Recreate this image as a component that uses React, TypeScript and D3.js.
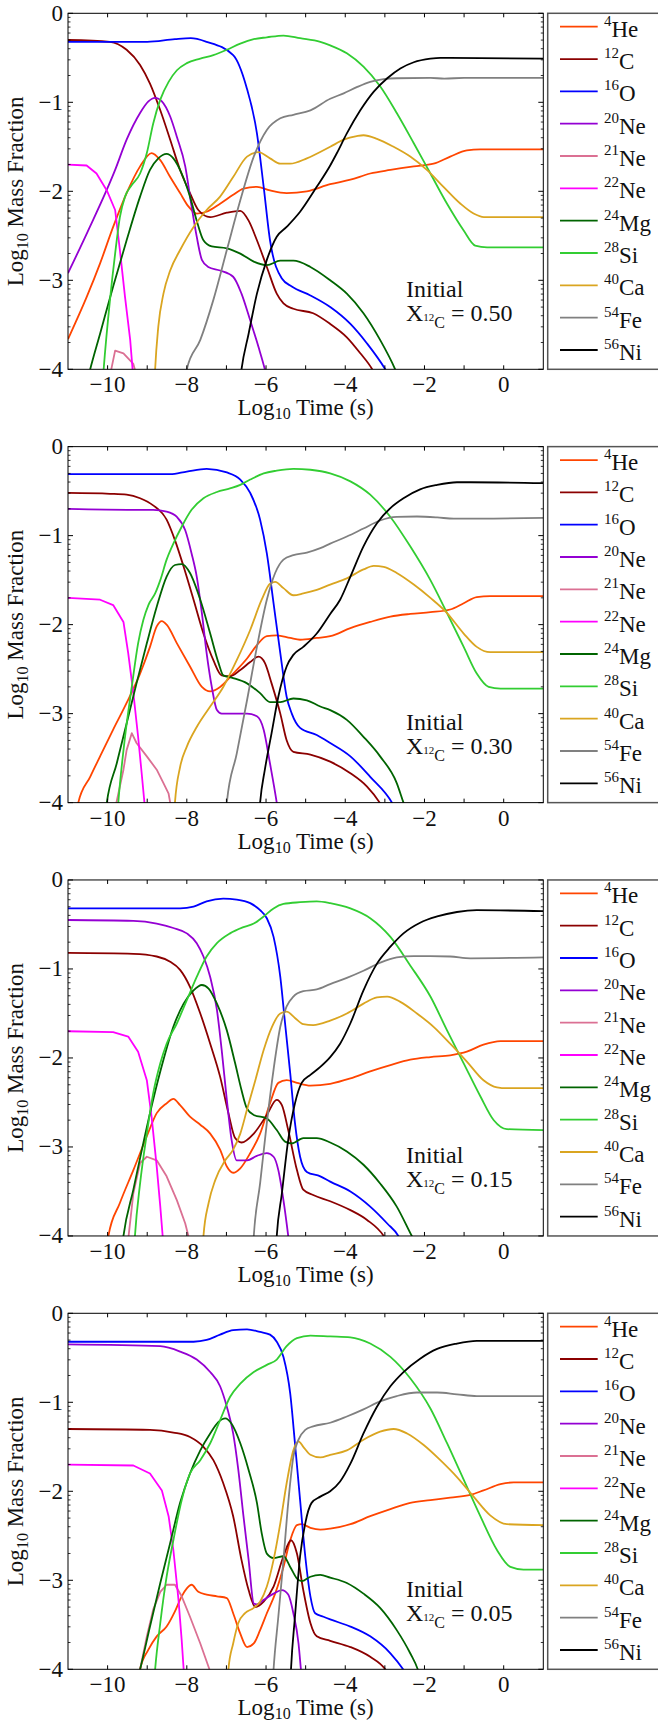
import React from 'react';
import * as d3 from 'd3';

type P = [number, number];

// ---------- species ----------
const MASSES = ['4', '12', '16', '20', '21', '22', '24', '28', '40', '54', '56'];
const SYMBOLS = ['He', 'C', 'O', 'Ne', 'Ne', 'Ne', 'Mg', 'Si', 'Ca', 'Fe', 'Ni'];
const COLORS = ['#FF4500', '#8B0000', '#0000FF', '#9400D3', '#DB7093', '#FF00FF', '#006400', '#32CD32', '#DAA520', '#808080', '#000000'];
const LINEAR_SPECIES = [4, 5];

const X_TICKS = [-10, -8, -6, -4, -2, 0];
const Y_TICKS = [0, -1, -2, -3, -4];
const INITIAL_X12C = ['0.50', '0.30', '0.15', '0.05'];

// ---------- panel 1 : X12C = 0.50 ----------
const he4_50: P[] = [[-11,-3.66],[-10.53,-3.19],[-10.19,-2.81],[-9.86,-2.40],[-9.52,-2.02],[-9.18,-1.72],[-8.89,-1.57],[-8.67,-1.65],[-8.42,-1.84],[-8.17,-2.02],[-7.96,-2.17],[-7.75,-2.25],[-7.5,-2.23],[-7.16,-2.14],[-6.83,-2.04],[-6.57,-1.97],[-6.23,-1.95],[-5.9,-1.99],[-5.48,-2.02],[-4.97,-2.0],[-4.38,-1.92],[-3.87,-1.87],[-3.37,-1.80],[-2.86,-1.76],[-2.27,-1.72],[-1.77,-1.69],[-1.35,-1.61],[-0.93,-1.54],[-0.59,-1.53],[1,-1.53]];
const c12_50: P[] = [[-11,-0.30],[-9.94,-0.32],[-9.52,-0.41],[-9.18,-0.58],[-8.93,-0.79],[-8.67,-1.09],[-8.42,-1.42],[-8.17,-1.76],[-7.92,-2.02],[-7.71,-2.21],[-7.41,-2.29],[-6.99,-2.24],[-6.65,-2.22],[-6.44,-2.33],[-6.23,-2.55],[-5.98,-2.85],[-5.73,-3.15],[-5.56,-3.26],[-5.31,-3.32],[-4.81,-3.37],[-4.38,-3.49],[-3.96,-3.64],[-3.62,-3.82],[-3.32,-4.0],[-3.1,-4.2]];
const o16_50: P[] = [[-11,-0.32],[-9,-0.32],[-8.3,-0.29],[-7.9,-0.28],[-7.5,-0.32],[-6.83,-0.47],[-6.5,-0.82],[-6.23,-1.35],[-6.06,-1.95],[-5.9,-2.55],[-5.6,-2.98],[-5.35,-3.07],[-4.88,-3.17],[-4.38,-3.30],[-3.87,-3.49],[-3.45,-3.71],[-2.99,-4.0],[-2.8,-4.15]];
const ne20_50: P[] = [[-11,-2.92],[-10.5,-2.45],[-9.81,-1.76],[-9.52,-1.42],[-9.18,-1.12],[-8.97,-0.99],[-8.8,-0.95],[-8.63,-0.99],[-8.42,-1.16],[-8.25,-1.39],[-8.04,-1.72],[-7.88,-2.17],[-7.75,-2.51],[-7.62,-2.77],[-7.46,-2.85],[-7.16,-2.89],[-6.83,-2.96],[-6.62,-3.15],[-6.4,-3.45],[-6.19,-3.75],[-6.03,-4.0],[-5.95,-4.15]];
const ne21_50: P[] = [[-10.0,-4.2],[-9.81,-3.79],[-9.6,-3.82],[-9.35,-3.94],[-9.22,-4.15]];
const ne22_50: P[] = [[-11,-1.70],[-10.53,-1.71],[-10.28,-1.80],[-10.02,-1.99],[-9.81,-2.21],[-9.69,-2.66],[-9.56,-3.19],[-9.43,-3.67],[-9.37,-4.0],[-9.33,-4.2]];
const mg24_50: P[] = [[-10.6,-4.3],[-10.44,-4.0],[-10.19,-3.6],[-9.86,-3.07],[-9.52,-2.55],[-9.18,-2.06],[-8.93,-1.76],[-8.72,-1.63],[-8.51,-1.58],[-8.34,-1.63],[-8.13,-1.80],[-7.92,-2.06],[-7.75,-2.33],[-7.58,-2.55],[-7.37,-2.62],[-6.99,-2.64],[-6.65,-2.70],[-6.31,-2.79],[-5.98,-2.83],[-5.64,-2.78],[-5.31,-2.78],[-4.88,-2.85],[-4.38,-3.0],[-3.96,-3.15],[-3.54,-3.37],[-3.12,-3.67],[-2.74,-4.0],[-2.6,-4.15]];
const si28_50: P[] = [[-10.15,-4.3],[-10.1,-4.0],[-9.94,-3.22],[-9.81,-2.70],[-9.69,-2.29],[-9.56,-2.06],[-9.39,-1.93],[-9.18,-1.80],[-9.01,-1.57],[-8.85,-1.24],[-8.67,-0.97],[-8.46,-0.77],[-8.25,-0.64],[-8.0,-0.56],[-7.66,-0.51],[-7.33,-0.47],[-6.99,-0.41],[-6.65,-0.34],[-6.31,-0.29],[-5.98,-0.27],[-5.56,-0.25],[-5.14,-0.28],[-4.63,-0.32],[-4.38,-0.36],[-3.96,-0.45],[-3.54,-0.60],[-3.12,-0.82],[-2.7,-1.12],[-2.27,-1.46],[-1.85,-1.80],[-1.43,-2.14],[-1.01,-2.44],[-0.72,-2.61],[-0.42,-2.63],[1,-2.63]];
const ca40_50: P[] = [[-8.82,-4.2],[-8.8,-4.0],[-8.72,-3.52],[-8.59,-3.15],[-8.42,-2.89],[-8.17,-2.66],[-7.83,-2.40],[-7.5,-2.21],[-7.16,-2.06],[-6.83,-1.84],[-6.48,-1.61],[-6.19,-1.56],[-5.9,-1.63],[-5.64,-1.69],[-5.39,-1.69],[-4.97,-1.63],[-4.38,-1.50],[-4.04,-1.42],[-3.71,-1.38],[-3.54,-1.37],[-3.2,-1.41],[-2.78,-1.50],[-2.36,-1.61],[-1.94,-1.76],[-1.52,-1.95],[-1.09,-2.14],[-0.76,-2.25],[-0.5,-2.29],[1,-2.29]];
const fe54_50: P[] = [[-8.1,-4.3],[-8.0,-4.0],[-7.66,-3.67],[-7.33,-3.22],[-6.99,-2.66],[-6.65,-2.10],[-6.31,-1.61],[-5.98,-1.31],[-5.64,-1.18],[-5.31,-1.14],[-4.88,-1.09],[-4.38,-0.96],[-4.04,-0.90],[-3.71,-0.83],[-3.37,-0.77],[-3.03,-0.74],[-2.7,-0.73],[-1.85,-0.725],[-1.5,-0.735],[-1,-0.725],[1,-0.725]];
const ni56_50: P[] = [[-6.7,-4.3],[-6.62,-4.0],[-6.44,-3.6],[-6.23,-3.15],[-5.98,-2.77],[-5.73,-2.51],[-5.48,-2.40],[-5.14,-2.23],[-4.72,-1.95],[-4.38,-1.71],[-4.21,-1.57],[-3.96,-1.35],[-3.62,-1.09],[-3.28,-0.88],[-2.94,-0.73],[-2.61,-0.62],[-2.27,-0.55],[-1.85,-0.51],[-1.6,-0.50],[1,-0.51]];

// ---------- panel 2 : X12C = 0.30 ----------
const he4_30: P[] = [[-10.8,-4.2],[-10.74,-4.0],[-10.44,-3.71],[-10.19,-3.48],[-9.86,-3.18],[-9.52,-2.88],[-9.18,-2.55],[-8.93,-2.25],[-8.76,-2.02],[-8.63,-1.96],[-8.51,-2.0],[-8.25,-2.21],[-7.92,-2.47],[-7.62,-2.70],[-7.41,-2.75],[-7.16,-2.70],[-6.83,-2.55],[-6.48,-2.38],[-6.23,-2.23],[-5.98,-2.13],[-5.73,-2.12],[-5.39,-2.15],[-5.14,-2.17],[-4.72,-2.15],[-4.38,-2.13],[-3.87,-2.04],[-3.37,-1.97],[-2.86,-1.91],[-2.36,-1.88],[-1.85,-1.86],[-1.35,-1.83],[-1.01,-1.76],[-0.68,-1.69],[-0.34,-1.68],[1,-1.68]];
const c12_30: P[] = [[-11,-0.52],[-9.94,-0.53],[-9.52,-0.54],[-9.18,-0.58],[-8.85,-0.66],[-8.51,-0.82],[-8.3,-1.05],[-8.08,-1.35],[-7.83,-1.72],[-7.58,-2.10],[-7.33,-2.40],[-7.12,-2.57],[-6.91,-2.58],[-6.65,-2.51],[-6.4,-2.42],[-6.19,-2.36],[-6.03,-2.43],[-5.86,-2.66],[-5.64,-3.0],[-5.48,-3.30],[-5.31,-3.43],[-4.88,-3.46],[-4.38,-3.54],[-3.87,-3.67],[-3.45,-3.82],[-3.13,-4.0],[-3.0,-4.1]];
const o16_30: P[] = [[-11,-0.31],[-8.42,-0.31],[-8,-0.28],[-7.5,-0.25],[-6.99,-0.29],[-6.65,-0.37],[-6.4,-0.52],[-6.15,-0.82],[-5.98,-1.20],[-5.81,-1.76],[-5.64,-2.32],[-5.48,-2.81],[-5.35,-3.0],[-5.14,-3.16],[-4.72,-3.24],[-4.38,-3.33],[-3.87,-3.48],[-3.37,-3.71],[-2.82,-4.0],[-2.7,-4.1]];
const ne20_30: P[] = [[-11,-0.70],[-9.35,-0.71],[-8.85,-0.71],[-8.51,-0.73],[-8.25,-0.79],[-8.04,-0.94],[-7.88,-1.20],[-7.75,-1.46],[-7.62,-1.87],[-7.5,-2.32],[-7.37,-2.70],[-7.24,-2.96],[-7.12,-3.0],[-6.83,-3.0],[-6.48,-3.0],[-6.23,-3.03],[-6.06,-3.18],[-5.9,-3.56],[-5.73,-4.0],[-5.68,-4.15]];
const ne21_30: P[] = [[-9.85,-4.15],[-9.6,-3.63],[-9.52,-3.41],[-9.39,-3.22],[-9.27,-3.33],[-9.01,-3.48],[-8.76,-3.63],[-8.59,-3.78],[-8.46,-3.90],[-8.42,-4.0],[-8.38,-4.1]];
const ne22_30: P[] = [[-11,-1.70],[-10.19,-1.72],[-9.86,-1.78],[-9.6,-1.97],[-9.48,-2.32],[-9.35,-2.77],[-9.23,-3.26],[-9.14,-3.67],[-9.07,-4.0],[-9.03,-4.2]];
const mg24_30: P[] = [[-10.1,-4.3],[-10.02,-4.0],[-9.77,-3.56],[-9.52,-3.11],[-9.27,-2.66],[-9.01,-2.21],[-8.76,-1.80],[-8.51,-1.46],[-8.3,-1.33],[-8.13,-1.32],[-7.92,-1.42],[-7.66,-1.72],[-7.41,-2.10],[-7.2,-2.43],[-7.08,-2.57],[-6.83,-2.60],[-6.48,-2.66],[-6.15,-2.77],[-5.9,-2.87],[-5.64,-2.87],[-5.31,-2.83],[-4.97,-2.85],[-4.63,-2.92],[-4.38,-2.96],[-3.96,-3.07],[-3.54,-3.26],[-3.12,-3.48],[-2.7,-3.78],[-2.53,-4.0],[-2.45,-4.1]];
const si28_30: P[] = [[-9.78,-4.3],[-9.73,-4.0],[-9.56,-3.26],[-9.39,-2.70],[-9.23,-2.21],[-9.1,-1.95],[-8.97,-1.78],[-8.8,-1.65],[-8.67,-1.50],[-8.51,-1.27],[-8.34,-1.09],[-8.13,-0.90],[-7.88,-0.71],[-7.58,-0.58],[-7.24,-0.51],[-6.91,-0.47],[-6.65,-0.43],[-6.4,-0.37],[-6.06,-0.30],[-5.73,-0.27],[-5.31,-0.25],[-4.88,-0.26],[-4.38,-0.30],[-3.87,-0.39],[-3.37,-0.54],[-2.86,-0.79],[-2.36,-1.12],[-1.85,-1.50],[-1.43,-1.87],[-1.01,-2.25],[-0.68,-2.55],[-0.38,-2.70],[-0.08,-2.72],[1,-2.72]];
const ca40_30: P[] = [[-8.33,-4.2],[-8.3,-4.0],[-8.17,-3.60],[-8.0,-3.37],[-7.75,-3.15],[-7.41,-2.92],[-7.08,-2.70],[-6.74,-2.40],[-6.4,-2.06],[-6.11,-1.72],[-5.9,-1.54],[-5.77,-1.52],[-5.56,-1.59],[-5.31,-1.67],[-5.06,-1.65],[-4.72,-1.61],[-4.38,-1.55],[-3.96,-1.48],[-3.54,-1.38],[-3.28,-1.34],[-3.03,-1.35],[-2.7,-1.42],[-2.27,-1.55],[-1.85,-1.70],[-1.43,-1.87],[-1.01,-2.10],[-0.68,-2.25],[-0.34,-2.31],[1,-2.31]];
const fe54_30: P[] = [[-7.05,-4.3],[-6.99,-4.0],[-6.74,-3.45],[-6.48,-2.85],[-6.23,-2.25],[-5.98,-1.72],[-5.77,-1.42],[-5.56,-1.27],[-5.31,-1.22],[-4.97,-1.19],[-4.63,-1.14],[-4.38,-1.09],[-3.96,-1.01],[-3.54,-0.92],[-3.12,-0.83],[-2.7,-0.79],[-2.19,-0.785],[-1.68,-0.795],[-1.26,-0.81],[1,-0.80]];
const ni56_30: P[] = [[-6.2,-4.3],[-6.15,-4.0],[-6.03,-3.63],[-5.86,-3.22],[-5.69,-2.81],[-5.48,-2.47],[-5.31,-2.34],[-5.06,-2.25],[-4.72,-2.10],[-4.38,-1.88],[-4.13,-1.72],[-3.87,-1.46],[-3.54,-1.12],[-3.2,-0.86],[-2.86,-0.69],[-2.53,-0.58],[-2.11,-0.48],[-1.68,-0.43],[-1.18,-0.40],[-0.84,-0.40],[1,-0.41]];

// ---------- panel 3 : X12C = 0.15 ----------
const he4_15: P[] = [[-10.05,-4.2],[-9.98,-4.0],[-9.69,-3.63],[-9.35,-3.26],[-9.01,-2.88],[-8.76,-2.62],[-8.51,-2.51],[-8.34,-2.46],[-8.17,-2.53],[-7.92,-2.66],[-7.66,-2.75],[-7.41,-2.85],[-7.16,-3.03],[-6.99,-3.22],[-6.83,-3.29],[-6.65,-3.24],[-6.4,-3.07],[-6.15,-2.85],[-5.9,-2.51],[-5.69,-2.28],[-5.48,-2.25],[-5.22,-2.28],[-4.88,-2.31],[-4.38,-2.29],[-3.87,-2.23],[-3.37,-2.15],[-2.86,-2.08],[-2.36,-2.02],[-1.85,-1.99],[-1.35,-1.97],[-0.93,-1.93],[-0.51,-1.85],[-0.08,-1.81],[1,-1.81]];
const c12_15: P[] = [[-11,-0.82],[-9.35,-0.83],[-8.76,-0.86],[-8.42,-0.92],[-8.17,-1.01],[-7.92,-1.20],[-7.66,-1.50],[-7.41,-1.84],[-7.16,-2.21],[-6.95,-2.62],[-6.78,-2.90],[-6.62,-2.95],[-6.31,-2.85],[-5.98,-2.64],[-5.73,-2.47],[-5.6,-2.53],[-5.44,-2.81],[-5.22,-3.26],[-5.06,-3.48],[-4.81,-3.54],[-4.38,-3.61],[-3.87,-3.71],[-3.45,-3.82],[-3.03,-4.0],[-2.9,-4.1]];
const o16_15: P[] = [[-11,-0.32],[-8.17,-0.32],[-7.83,-0.30],[-7.5,-0.24],[-7.08,-0.21],[-6.74,-0.22],[-6.4,-0.26],[-6.15,-0.34],[-5.98,-0.43],[-5.81,-0.64],[-5.64,-1.09],[-5.52,-1.61],[-5.39,-2.17],[-5.27,-2.73],[-5.14,-3.11],[-4.97,-3.28],[-4.63,-3.33],[-4.38,-3.39],[-3.87,-3.50],[-3.37,-3.67],[-2.94,-3.86],[-2.66,-4.0],[-2.55,-4.1]];
const ne20_15: P[] = [[-11,-0.45],[-9.35,-0.46],[-8.76,-0.49],[-8.34,-0.54],[-8.0,-0.60],[-7.75,-0.71],[-7.58,-0.86],[-7.41,-1.09],[-7.24,-1.46],[-7.12,-1.91],[-6.99,-2.47],[-6.87,-2.92],[-6.74,-3.15],[-6.48,-3.15],[-6.23,-3.10],[-5.98,-3.07],[-5.81,-3.11],[-5.69,-3.26],[-5.56,-3.60],[-5.44,-4.0],[-5.4,-4.15]];
const ne21_15: P[] = [[-9.52,-4.2],[-9.35,-3.52],[-9.18,-3.18],[-9.01,-3.11],[-8.76,-3.15],[-8.51,-3.33],[-8.25,-3.60],[-8.04,-3.86],[-7.96,-4.0],[-7.92,-4.1]];
const ne22_15: P[] = [[-11,-1.70],[-9.86,-1.71],[-9.48,-1.76],[-9.23,-1.93],[-9.01,-2.25],[-8.89,-2.66],[-8.76,-3.22],[-8.67,-3.67],[-8.61,-4.0],[-8.58,-4.2]];
const mg24_15: P[] = [[-9.68,-4.3],[-9.6,-4.0],[-9.35,-3.48],[-9.1,-2.96],[-8.85,-2.47],[-8.59,-2.02],[-8.34,-1.65],[-8.08,-1.39],[-7.83,-1.24],[-7.62,-1.18],[-7.45,-1.22],[-7.24,-1.39],[-6.99,-1.69],[-6.78,-2.06],[-6.62,-2.36],[-6.48,-2.57],[-6.31,-2.64],[-5.98,-2.68],[-5.73,-2.81],[-5.52,-2.94],[-5.35,-2.96],[-5.06,-2.90],[-4.72,-2.90],[-4.38,-2.95],[-3.96,-3.05],[-3.54,-3.20],[-3.12,-3.41],[-2.7,-3.67],[-2.32,-4.0],[-2.2,-4.1]];
const si28_15: P[] = [[-9.35,-4.3],[-9.31,-4.0],[-9.18,-3.41],[-9.01,-2.85],[-8.85,-2.40],[-8.67,-2.06],[-8.51,-1.84],[-8.25,-1.61],[-8.0,-1.35],[-7.75,-1.09],[-7.5,-0.86],[-7.24,-0.71],[-6.91,-0.60],[-6.57,-0.53],[-6.31,-0.49],[-6.06,-0.41],[-5.81,-0.32],[-5.56,-0.27],[-5.14,-0.25],[-4.72,-0.24],[-4.38,-0.26],[-3.87,-0.32],[-3.37,-0.43],[-2.86,-0.64],[-2.36,-0.96],[-1.85,-1.31],[-1.43,-1.69],[-1.01,-2.06],[-0.59,-2.43],[-0.25,-2.70],[0.08,-2.80],[1,-2.81]];
const ca40_15: P[] = [[-7.6,-4.2],[-7.58,-4.0],[-7.45,-3.63],[-7.28,-3.37],[-7.03,-3.15],[-6.83,-3.03],[-6.65,-2.85],[-6.48,-2.58],[-6.27,-2.25],[-6.06,-1.91],[-5.85,-1.65],[-5.64,-1.50],[-5.48,-1.48],[-5.27,-1.55],[-5.06,-1.62],[-4.81,-1.63],[-4.38,-1.58],[-3.96,-1.50],[-3.54,-1.39],[-3.2,-1.32],[-2.94,-1.31],[-2.61,-1.37],[-2.19,-1.50],[-1.77,-1.65],[-1.35,-1.84],[-0.93,-2.04],[-0.51,-2.25],[-0.17,-2.33],[0.08,-2.34],[1,-2.34]];
const fe54_15: P[] = [[-6.35,-4.3],[-6.31,-4.0],[-6.15,-3.41],[-5.98,-2.73],[-5.81,-2.13],[-5.64,-1.65],[-5.48,-1.42],[-5.31,-1.31],[-5.06,-1.25],[-4.72,-1.23],[-4.38,-1.17],[-3.96,-1.10],[-3.54,-1.02],[-3.12,-0.93],[-2.7,-0.87],[-2.27,-0.855],[-1.85,-0.855],[-1.35,-0.86],[-0.84,-0.88],[1,-0.87]];
const ni56_15: P[] = [[-5.77,-4.3],[-5.73,-4.0],[-5.6,-3.52],[-5.44,-2.92],[-5.27,-2.51],[-5.1,-2.28],[-4.88,-2.19],[-4.63,-2.10],[-4.38,-1.99],[-4.13,-1.84],[-3.87,-1.61],[-3.54,-1.24],[-3.2,-0.94],[-2.86,-0.75],[-2.53,-0.60],[-2.11,-0.48],[-1.68,-0.41],[-1.18,-0.36],[-0.68,-0.34],[1,-0.35]];

// ---------- panel 4 : X12C = 0.05 ----------
const he4_05: P[] = [[-9.25,-4.2],[-9.18,-4.0],[-8.97,-3.78],[-8.76,-3.63],[-8.51,-3.52],[-8.3,-3.35],[-8.13,-3.18],[-8.0,-3.09],[-7.88,-3.05],[-7.71,-3.13],[-7.5,-3.16],[-7.24,-3.18],[-6.99,-3.20],[-6.83,-3.37],[-6.65,-3.60],[-6.48,-3.75],[-6.31,-3.71],[-6.15,-3.56],[-5.98,-3.37],[-5.77,-3.15],[-5.56,-2.85],[-5.39,-2.55],[-5.22,-2.38],[-5.1,-2.37],[-4.88,-2.41],[-4.63,-2.43],[-4.38,-2.42],[-3.87,-2.37],[-3.37,-2.28],[-2.86,-2.20],[-2.36,-2.13],[-1.85,-2.10],[-1.35,-2.07],[-0.84,-2.04],[-0.51,-1.99],[-0.08,-1.92],[0.25,-1.90],[1,-1.90]];
const c12_05: P[] = [[-11,-1.30],[-8.93,-1.31],[-8.34,-1.34],[-7.92,-1.39],[-7.58,-1.50],[-7.33,-1.65],[-7.08,-1.91],[-6.83,-2.28],[-6.62,-2.77],[-6.44,-3.11],[-6.27,-3.30],[-6.06,-3.24],[-5.81,-3.07],[-5.56,-2.73],[-5.37,-2.55],[-5.22,-2.70],[-5.06,-3.11],[-4.88,-3.48],[-4.72,-3.63],[-4.38,-3.68],[-3.87,-3.75],[-3.37,-3.86],[-2.99,-4.0],[-2.85,-4.1]];
const o16_05: P[] = [[-11,-0.32],[-7.83,-0.32],[-7.5,-0.30],[-7.16,-0.24],[-6.83,-0.19],[-6.48,-0.18],[-6.15,-0.21],[-5.9,-0.24],[-5.73,-0.32],[-5.56,-0.49],[-5.39,-0.90],[-5.27,-1.46],[-5.14,-2.10],[-5.01,-2.73],[-4.88,-3.18],[-4.76,-3.37],[-4.55,-3.41],[-4.38,-3.44],[-3.87,-3.52],[-3.37,-3.63],[-2.86,-3.82],[-2.54,-4.0],[-2.4,-4.1]];
const ne20_05: P[] = [[-11,-0.35],[-8.67,-0.37],[-8.17,-0.43],[-7.75,-0.52],[-7.41,-0.66],[-7.16,-0.82],[-6.99,-1.05],[-6.83,-1.35],[-6.7,-1.76],[-6.57,-2.28],[-6.44,-2.77],[-6.31,-3.26],[-6.23,-3.27],[-6.06,-3.22],[-5.81,-3.15],[-5.6,-3.11],[-5.44,-3.16],[-5.31,-3.37],[-5.18,-3.71],[-5.12,-4.0],[-5.09,-4.15]];
const ne21_05: P[] = [[-9.3,-4.4],[-9.18,-4.0],[-9.01,-3.63],[-8.85,-3.33],[-8.67,-3.13],[-8.51,-3.05],[-8.3,-3.05],[-8.13,-3.18],[-7.92,-3.41],[-7.66,-3.71],[-7.43,-4.0],[-7.35,-4.1]];
const ne22_05: P[] = [[-11,-1.70],[-9.35,-1.71],[-8.93,-1.80],[-8.63,-1.99],[-8.46,-2.28],[-8.34,-2.66],[-8.21,-3.22],[-8.13,-3.67],[-8.08,-4.0],[-8.05,-4.2]];
const mg24_05: P[] = [[-9.3,-4.2],[-9.18,-4.0],[-8.93,-3.52],[-8.67,-3.03],[-8.42,-2.58],[-8.17,-2.13],[-7.92,-1.80],[-7.66,-1.54],[-7.41,-1.35],[-7.2,-1.22],[-7.03,-1.18],[-6.87,-1.24],[-6.65,-1.46],[-6.44,-1.76],[-6.23,-2.13],[-6.11,-2.47],[-5.98,-2.70],[-5.81,-2.75],[-5.56,-2.73],[-5.39,-2.85],[-5.22,-2.98],[-5.1,-3.01],[-4.88,-2.96],[-4.63,-2.94],[-4.38,-2.97],[-3.96,-3.03],[-3.54,-3.15],[-3.12,-3.31],[-2.7,-3.56],[-2.36,-3.82],[-2.17,-4.0],[-2.1,-4.1]];
const si28_05: P[] = [[-8.85,-4.3],[-8.8,-4.0],[-8.67,-3.48],[-8.51,-2.96],[-8.34,-2.55],[-8.13,-2.10],[-7.92,-1.80],[-7.66,-1.65],[-7.41,-1.46],[-7.16,-1.20],[-6.91,-0.94],[-6.65,-0.79],[-6.31,-0.66],[-5.98,-0.58],[-5.73,-0.52],[-5.48,-0.37],[-5.22,-0.28],[-4.88,-0.25],[-4.38,-0.26],[-3.87,-0.27],[-3.37,-0.34],[-2.86,-0.49],[-2.36,-0.73],[-1.85,-1.07],[-1.43,-1.46],[-1.01,-1.87],[-0.59,-2.28],[-0.17,-2.66],[0.17,-2.85],[0.5,-2.88],[1,-2.88]];
const ca40_05: P[] = [[-7.0,-4.3],[-6.95,-4.0],[-6.83,-3.71],[-6.7,-3.48],[-6.53,-3.37],[-6.31,-3.31],[-6.15,-3.24],[-5.98,-3.07],[-5.81,-2.77],[-5.64,-2.36],[-5.48,-1.91],[-5.31,-1.54],[-5.18,-1.44],[-5.06,-1.50],[-4.88,-1.59],[-4.63,-1.62],[-4.38,-1.59],[-3.96,-1.54],[-3.54,-1.42],[-3.12,-1.33],[-2.78,-1.30],[-2.44,-1.35],[-2.02,-1.48],[-1.6,-1.65],[-1.18,-1.84],[-0.76,-2.06],[-0.34,-2.27],[0.08,-2.37],[1,-2.38]];
const fe54_05: P[] = [[-5.85,-4.3],[-5.81,-4.0],[-5.69,-3.41],[-5.56,-2.77],[-5.44,-2.13],[-5.31,-1.61],[-5.18,-1.42],[-5.01,-1.31],[-4.81,-1.27],[-4.38,-1.23],[-3.96,-1.16],[-3.54,-1.08],[-3.12,-0.99],[-2.7,-0.93],[-2.19,-0.89],[-1.68,-0.89],[-1.18,-0.91],[-0.68,-0.93],[1,-0.93]];
const ni56_05: P[] = [[-5.4,-4.3],[-5.37,-4.0],[-5.27,-3.41],[-5.14,-2.73],[-5.01,-2.36],[-4.85,-2.13],[-4.63,-2.06],[-4.38,-2.0],[-4.13,-1.89],[-3.87,-1.69],[-3.54,-1.35],[-3.2,-1.05],[-2.86,-0.82],[-2.53,-0.66],[-2.11,-0.51],[-1.68,-0.40],[-1.18,-0.34],[-0.68,-0.31],[1,-0.31]];

const PANEL_SERIES: P[][][] = [
  [he4_50, c12_50, o16_50, ne20_50, ne21_50, ne22_50, mg24_50, si28_50, ca40_50, fe54_50, ni56_50],
  [he4_30, c12_30, o16_30, ne20_30, ne21_30, ne22_30, mg24_30, si28_30, ca40_30, fe54_30, ni56_30],
  [he4_15, c12_15, o16_15, ne20_15, ne21_15, ne22_15, mg24_15, si28_15, ca40_15, fe54_15, ni56_15],
  [he4_05, c12_05, o16_05, ne20_05, ne21_05, ne22_05, mg24_05, si28_05, ca40_05, fe54_05, ni56_05],
];

// ---------- layout ----------
const W = 658;
const H = 1723;
const LEFT = 68;
const RIGHT = 543.3;
const PH = 356;
const TOP0 = 13.3;
const STEP = 433.33;
const FONT = '"Liberation Serif", "DejaVu Serif", "Times New Roman", serif';

const fmt = (v: number) => (v < 0 ? '\u2212' + Math.abs(v) : String(v));

function Panel({ idx }: { idx: number }) {
  const top = TOP0 + idx * STEP;
  const bottom = top + PH;
  const x = d3.scaleLinear().domain([-11, 1]).range([LEFT, RIGHT]);
  const y = d3.scaleLinear().domain([-4, 0]).range([bottom, top]);
  const clipId = `clip${idx}`;
  const series = PANEL_SERIES[idx];

  const minorY: number[] = [];
  for (let d = -4; d < 0; d++) for (let k = 2; k <= 9; k++) minorY.push(d + Math.log10(k));
  const xInts = d3.range(-10, 1);

  const legX = 547.7;
  const rowStep = 32.33;

  return (
    <g>
      <defs>
        <clipPath id={clipId}>
          <rect x={LEFT} y={top} width={RIGHT - LEFT} height={PH} />
        </clipPath>
      </defs>
      <g clipPath={`url(#${clipId})`}>
        {series.map((pts, i) => {
          const line = d3
            .line<P>()
            .x((d) => x(d[0]))
            .y((d) => y(d[1]))
            .curve(LINEAR_SPECIES.includes(i) ? d3.curveLinear : d3.curveMonotoneX);
          return <path key={i} d={line(pts) || ''} fill="none" stroke={COLORS[i]} strokeWidth={1.8} strokeLinejoin="round" />;
        })}
      </g>
      <rect x={LEFT} y={top} width={RIGHT - LEFT} height={PH} fill="none" stroke="#000" strokeWidth={1} />
      {/* y ticks */}
      {Y_TICKS.map((v) => (
        <g key={'yt' + v}>
          <line x1={LEFT} x2={LEFT + 5} y1={y(v)} y2={y(v)} stroke="#000" strokeWidth={1} />
          <line x1={RIGHT} x2={RIGHT - 5} y1={y(v)} y2={y(v)} stroke="#000" strokeWidth={1} />
          <text x={LEFT - 5} y={y(v) + 7.5} textAnchor="end" fontSize={23} fontFamily={FONT} fill="#111">
            {fmt(v)}
          </text>
        </g>
      ))}
      {minorY.map((v, i) => (
        <g key={'ym' + i}>
          <line x1={LEFT} x2={LEFT + 2.5} y1={y(v)} y2={y(v)} stroke="#000" strokeWidth={0.8} />
          <line x1={RIGHT} x2={RIGHT - 2.5} y1={y(v)} y2={y(v)} stroke="#000" strokeWidth={0.8} />
        </g>
      ))}
      {/* x ticks */}
      {xInts.map((v) => (
        <g key={'xt' + v}>
          <line x1={x(v)} x2={x(v)} y1={bottom} y2={bottom - 4} stroke="#000" strokeWidth={1} />
          <line x1={x(v)} x2={x(v)} y1={top} y2={top + 4} stroke="#000" strokeWidth={1} />
        </g>
      ))}
      {X_TICKS.map((v) => (
        <text key={'xl' + v} x={x(v)} y={bottom + 23} textAnchor="middle" fontSize={23} fontFamily={FONT} fill="#111">
          {fmt(v)}
        </text>
      ))}
      {/* axis labels */}
      <text x={(LEFT + RIGHT) / 2} y={bottom + 46} textAnchor="middle" fontSize={23} fontFamily={FONT} fill="#111">
        Log<tspan fontSize={16} dy={4}>10</tspan>
        <tspan dy={-4}> Time (s)</tspan>
      </text>
      <text
        transform={`translate(23,${(top + bottom) / 2}) rotate(-90)`}
        textAnchor="middle"
        fontSize={23}
        fontFamily={FONT}
        fill="#111"
      >
        Log<tspan fontSize={16} dy={5}>10</tspan>
        <tspan dy={-5}> Mass Fraction</tspan>
      </text>
      {/* annotation */}
      <text x={406} y={top + 283.5} fontSize={24} fontFamily={FONT} fill="#111">
        Initial
      </text>
      <text x={406} y={top + 307.5} fontSize={24} fontFamily={FONT} fill="#111">
        X<tspan fontSize={11}>12</tspan>
        <tspan fontSize={16} dy={7}>C</tspan>
        <tspan fontSize={24} dy={-7}> = {INITIAL_X12C[idx]}</tspan>
      </text>
      {/* legend */}
      <rect x={legX} y={top} width={W - legX + 10} height={PH} fill="#fff" stroke="#555" strokeWidth={1.5} />
      {MASSES.map((m, i) => {
        const ly = top + 13.4 + i * rowStep;
        return (
          <g key={'lg' + i}>
            <line x1={560} x2={597.7} y1={ly} y2={ly} stroke={COLORS[i]} strokeWidth={1.8} />
            <text x={604} y={ly + 10} fontSize={23} fontFamily={FONT} fill="#111">
              <tspan fontSize={15} dy={-11}>{m}</tspan>
              <tspan dy={11}>{SYMBOLS[i]}</tspan>
            </text>
          </g>
        );
      })}
    </g>
  );
}

export default function App() {
  return (
    <div style={{ position: 'absolute', left: 0, top: 0, width: W, height: H, background: '#fff' }}>
      <svg width={W} height={H} viewBox={`0 0 ${W} ${H}`} style={{ display: 'block' }}>
        <rect x={0} y={0} width={W} height={H} fill="#fff" />
        {[0, 1, 2, 3].map((i) => (
          <Panel key={i} idx={i} />
        ))}
      </svg>
    </div>
  );
}
